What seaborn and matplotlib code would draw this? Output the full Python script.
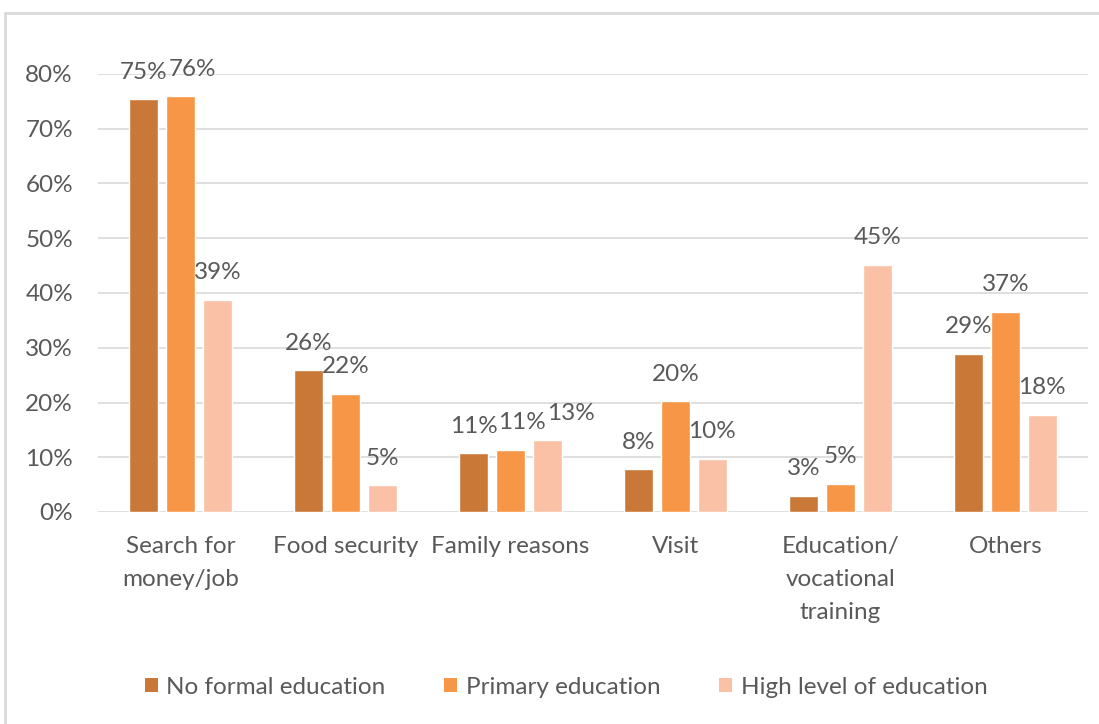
import matplotlib
matplotlib.use("Agg")
import matplotlib.pyplot as plt
import seaborn as sns
import pandas as pd
from matplotlib.lines import Line2D
from matplotlib.patches import Patch

categories = ["Search for\nmoney/job", "Food security", "Family reasons", "Visit",
              "Education/\nvocational\ntraining", "Others"]
series = ["No formal education", "Primary education", "High level of education"]
no_formal = [75.4, 25.9, 10.7, 7.8, 3.0, 28.9]
primary = [75.9, 21.6, 11.4, 20.2, 5.2, 36.6]
high = [38.7, 4.9, 13.1, 9.7, 45.1, 17.8]
yticks = [0, 10, 20, 30, 40, 50, 60, 70, 80]
colors = ["#C97838", "#F79646", "#FAC1A6"]

rows = []
for s, vals in zip(series, [no_formal, primary, high]):
    for c, v in zip(categories, vals):
        rows.append({"category": c, "series": s, "value": v})
df = pd.DataFrame(rows)

sns.set_theme(style="white")
plt.rcParams["font.family"] = ["Lato", "DejaVu Sans"]
text_color = "#595959"
fs = 17.5
DPI = 100

fig = plt.figure(figsize=(10.99, 7.24), dpi=DPI)
ax = fig.add_axes([98 / 1099, 1 - 512 / 724, 990 / 1099, (512 - 74) / 724])

sns.barplot(data=df, x="category", y="value", hue="series", palette=colors,
            order=categories, hue_order=series, width=0.67, gap=0.22,
            ax=ax, legend=False, saturation=1)

label_pad = 12
all_labels = []
for cont in ax.containers:
    anns = ax.bar_label(cont, labels=[f"{v:.0f}%" for v in cont.datavalues],
                        fontsize=fs, color=text_color, padding=label_pad)
    all_labels.append(anns)

ax.set_ylim(0, 80)
ax.set_yticks(yticks)
ax.set_yticklabels([f"{t}%" for t in yticks], fontsize=fs, color=text_color)
ax.set_xticks(range(len(categories)))
ax.set_xticklabels(categories, fontsize=fs, color=text_color, linespacing=1.72)
ax.tick_params(axis="both", length=0)
ax.tick_params(axis="y", pad=18)
ax.tick_params(axis="x", pad=17)
ax.set_xlabel("")
ax.set_ylabel("")
for sp in ax.spines.values():
    sp.set_visible(False)
ax.yaxis.grid(True, color="#D9D9D9", linewidth=1.2)
ax.set_axisbelow(True)
ax.set_xlim(-0.5, len(categories) - 0.5)

# push data labels right (like the reference) where they would collide
fig.canvas.draw()
renderer = fig.canvas.get_renderer()
for ci in range(len(categories)):
    placed = []
    for si in range(len(series)):
        ann = all_labels[si][ci]
        bb = ann.get_window_extent(renderer)
        for pb in placed:
            v_overlap = bb.y0 < pb.y1 - 1 and bb.y1 > pb.y0 + 1
            if v_overlap and bb.x0 < pb.x1 + 1:
                shift_px = pb.x1 + 1 - bb.x0
                dx, dy = ann.xyann
                ann.xyann = (dx + shift_px * 72 / DPI, dy)
                fig.canvas.draw()
                bb = ann.get_window_extent(renderer)
        placed.append(bb)

handles = [Patch(facecolor=c, edgecolor="none") for c in colors]
fig.legend(handles, series, loc="center", bbox_to_anchor=(566 / 1099, 1 - 687 / 724),
           ncol=3, frameon=False, fontsize=fs, handlelength=0.55, handleheight=0.55,
           handletextpad=0.35, columnspacing=2.4, labelcolor=text_color)

# outer chart frame
fig.add_artist(Line2D([5 / 1099, 5 / 1099], [0, 1 - 13 / 724], color="#D9D9D9",
                      linewidth=2, transform=fig.transFigure))
fig.add_artist(Line2D([5 / 1099, 1], [1 - 13 / 724, 1 - 13 / 724], color="#D9D9D9",
                      linewidth=2, transform=fig.transFigure))

fig.savefig("out.png", dpi=DPI)
